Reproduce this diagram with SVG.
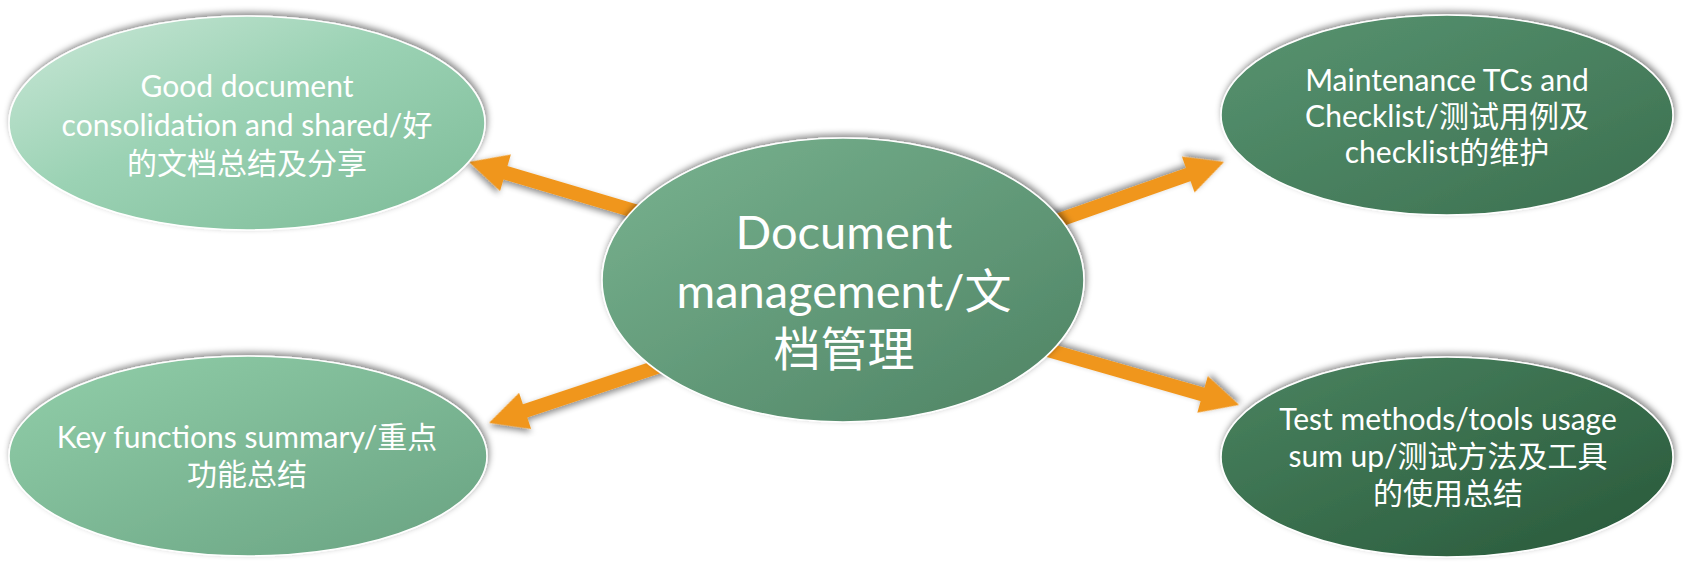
<svg xmlns="http://www.w3.org/2000/svg" width="1684" height="562" viewBox="0 0 1684 562">
  <defs>
    <style>
      .node { stroke: #ffffff; stroke-width: 1.6; filter: url(#shadow); }
      .lbl { font-family: Lato, "Noto Sans CJK SC", sans-serif; fill: #ffffff; text-anchor: middle; }
      .side { font-size: 30px; }
      .main { font-size: 47px; }
      .arrow { fill: #f0961a; filter: url(#shadow); }
    </style>
    <filter id="shadow" x="-10%" y="-20%" width="120%" height="140%">
      <feDropShadow dx="1.5" dy="-3" stdDeviation="3" flood-color="#000000" flood-opacity="0.45"/>
    </filter>
    <linearGradient id="g1" x1="0" y1="0" x2="1" y2="1">
      <stop offset="0" stop-color="#cbe8d8"/>
      <stop offset="0.45" stop-color="#9bd2b4"/>
      <stop offset="1" stop-color="#7bba96"/>
    </linearGradient>
    <linearGradient id="g2" x1="0" y1="0" x2="1" y2="1">
      <stop offset="0" stop-color="#92cfaa"/>
      <stop offset="1" stop-color="#68a281"/>
    </linearGradient>
    <linearGradient id="g3" x1="0" y1="0" x2="1" y2="1">
      <stop offset="0" stop-color="#79b390"/>
      <stop offset="1" stop-color="#4d8263"/>
    </linearGradient>
    <linearGradient id="g4" x1="0" y1="0" x2="1" y2="1">
      <stop offset="0" stop-color="#589471"/>
      <stop offset="1" stop-color="#3b6f4f"/>
    </linearGradient>
    <linearGradient id="g5" x1="0" y1="0" x2="1" y2="1">
      <stop offset="0" stop-color="#4b8461"/>
      <stop offset="1" stop-color="#275839"/>
    </linearGradient>
    <path id="arr" d="M0,-7 L172,-7 L172,-19 L210,0 L172,19 L172,7 L0,7 Z"/>
  </defs>

  <g id="connectors">
    <use href="#arr" class="arrow" transform="translate(670.4,221.6) rotate(196.5)"/>
    <use href="#arr" class="arrow" transform="translate(1026,231.7) rotate(-19.4)"/>
    <use href="#arr" class="arrow" transform="translate(688.3,356.6) rotate(161.6)"/>
    <use href="#arr" class="arrow" transform="translate(1037.2,347) rotate(16)"/>
  </g>

  <g id="node-center">
    <ellipse class="node" cx="843" cy="280" rx="241" ry="142" fill="url(#g3)"/>
    <text class="lbl main" x="844" y="249">Document</text>
    <text class="lbl main" x="844" y="308">management/文</text>
    <text class="lbl main" x="844" y="366">档管理</text>
  </g>

  <g id="node-top-left">
    <ellipse class="node" cx="247" cy="123" rx="238" ry="107" fill="url(#g1)"/>
    <text class="lbl side" x="247" y="97">Good document</text>
    <text class="lbl side" x="247" y="136">consolidation and shared/好</text>
    <text class="lbl side" x="247" y="174">的文档总结及分享</text>
  </g>

  <g id="node-top-right">
    <ellipse class="node" cx="1447" cy="115" rx="226" ry="100" fill="url(#g4)"/>
    <text class="lbl side" x="1447" y="91">Maintenance TCs and</text>
    <text class="lbl side" x="1447" y="127">Checklist/测试用例及</text>
    <text class="lbl side" x="1447" y="163">checklist的维护</text>
  </g>

  <g id="node-bottom-left">
    <ellipse class="node" cx="248" cy="456" rx="239" ry="100" fill="url(#g2)"/>
    <text class="lbl side" x="247" y="448">Key functions summary/重点</text>
    <text class="lbl side" x="247" y="485">功能总结</text>
  </g>

  <g id="node-bottom-right">
    <ellipse class="node" cx="1447" cy="457" rx="226" ry="100" fill="url(#g5)"/>
    <text class="lbl side" x="1448" y="430">Test methods/tools usage</text>
    <text class="lbl side" x="1448" y="467">sum up/测试方法及工具</text>
    <text class="lbl side" x="1448" y="504">的使用总结</text>
  </g>
</svg>
